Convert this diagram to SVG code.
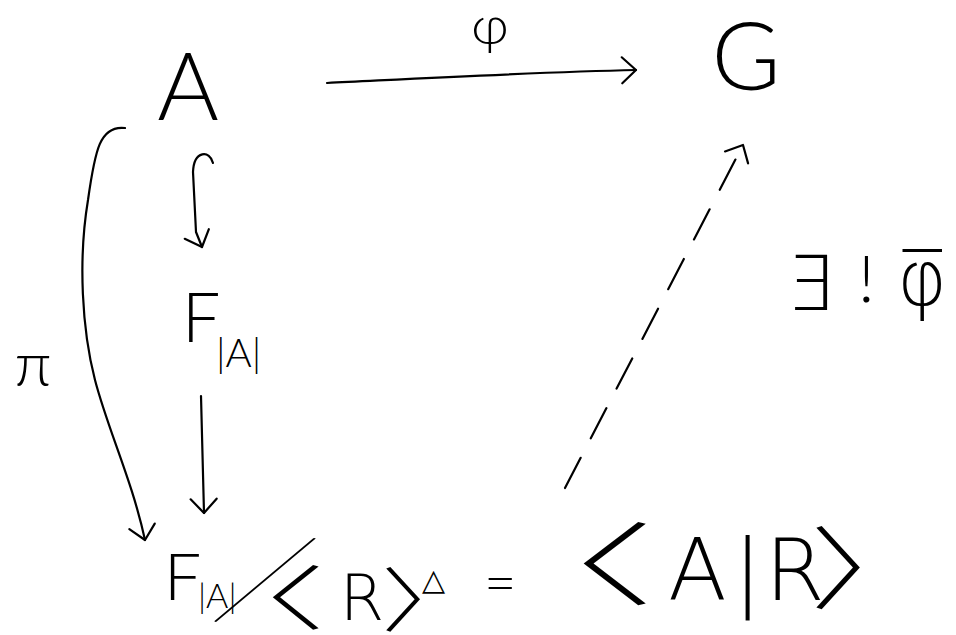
<svg xmlns="http://www.w3.org/2000/svg" width="956" height="635" viewBox="0 0 956 635">
<style>
.t{font-family:Lato,"DejaVu Sans",sans-serif;font-weight:300;fill:#000}
.h{font-family:Lato,"DejaVu Sans",sans-serif;font-weight:100;fill:#000}
.s{font-family:"DejaVu Sans",sans-serif;font-weight:200;fill:#000}
.b{font-family:"Noto Sans CJK SC","DejaVu Sans",sans-serif;font-weight:200;fill:#000}
.e{fill:none;stroke:#000;stroke-width:2.2;stroke-linecap:round;stroke-linejoin:round}
.d{stroke-dasharray:34 22}
</style>
<defs>
<marker id="ah" markerUnits="userSpaceOnUse" markerWidth="40" markerHeight="40" viewBox="-20 -20 40 40" refX="0" refY="0" orient="auto">
<path d="M-14,-13 L0,0 L-14,13" fill="none" stroke="#000" stroke-width="2.2" stroke-linecap="round" stroke-linejoin="round"/>
</marker>
</defs>
<rect width="956" height="635" fill="#fff"/>
<g id="edges">
<path class="e" d="M327,83 C430,78 540,72 636,70" marker-end="url(#ah)"/>
<path class="e" d="M213,163 C210,150 194,150 193,172 L196,232 L202,247" marker-end="url(#ah)"/>
<path class="e" d="M201,396 L204,513" marker-end="url(#ah)"/>
<path class="e" d="M125,128 C100,125 95,150 88,200 C78,260 82,330 95,380 C108,430 132,480 145,540" marker-end="url(#ah)"/>
<path class="e d" d="M565,488 L743,145" marker-end="url(#ah)"/>
</g>
<g id="label-phi"><text class="t" x="490" y="44" font-size="54" text-anchor="middle">φ</text></g>
<g id="label-pi"><text class="t" x="33" y="386" font-size="62" text-anchor="middle">π</text></g>
<g id="label-unique"><text class="s" x="786" y="310" font-size="76">∃</text><text class="t" x="858" y="302" font-size="66">!</text><text class="s" x="922" y="305" font-size="76" text-anchor="middle">φ̅</text></g>
<g id="A"><text class="t" x="188" y="120" font-size="94" text-anchor="middle">A</text></g>
<g id="G"><text class="t" x="746" y="90" font-size="94" text-anchor="middle">G</text></g>
<g id="F"><text class="t" x="182" y="342" font-size="68">F</text><text class="t" x="216" y="367" font-size="40">|A|</text></g>
<g id="Q">
<text class="t" x="164" y="600" font-size="66">F</text>
<text class="t" x="198" y="608" font-size="34">|A|</text>
<text class="h" x="266" y="634" font-size="158" text-anchor="middle" transform="rotate(27 266 578)">/</text>
<text class="b" font-size="70" y="624" x="276" text-anchor="middle" transform="translate(295,0) scale(1.9,1) translate(-295,0)">〈</text>
<text class="s" font-size="64" y="620" x="362" text-anchor="middle">R</text>
<text class="b" font-size="70" y="626" x="423" text-anchor="middle" transform="translate(405,0) scale(1.4,1) translate(-405,0)">〉</text>
<text class="s" x="422" y="590" font-size="30">△</text>
<text class="t" x="484" y="602" font-size="56">=</text>
<text class="b" font-size="90" y="598" x="590" text-anchor="middle" transform="translate(615,0) scale(2,1) translate(-615,0)">〈</text>
<text class="s" font-size="86" y="600"><tspan x="668">A</tspan><tspan x="733">|</tspan><tspan x="765">R</tspan></text>
<text class="b" font-size="90" y="602" x="863" text-anchor="middle" transform="translate(838,0) scale(1.4,1) translate(-838,0)">〉</text>
</g>
</svg>
